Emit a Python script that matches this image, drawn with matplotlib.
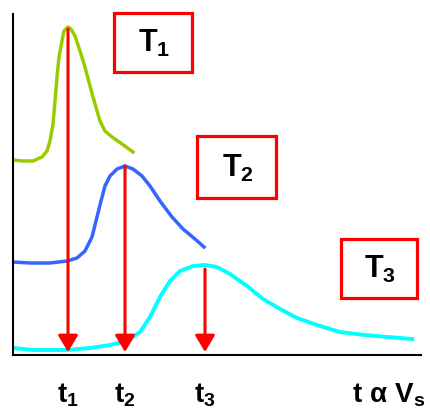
import matplotlib
matplotlib.use('Agg')
import matplotlib.pyplot as plt
from matplotlib.patches import Rectangle

plt.rcParams['font.family'] = ['Liberation Sans', 'DejaVu Sans']
plt.rcParams['mathtext.fontset'] = 'custom'
plt.rcParams['mathtext.rm'] = 'Liberation Sans:bold'
plt.rcParams['mathtext.bf'] = 'Liberation Sans:bold'
plt.rcParams['mathtext.it'] = 'Liberation Sans:bold'

# peak curves (arbitrary units)
green_x = [0, 10, 20, 29, 34, 37, 40, 42, 44, 46, 49, 51, 55, 58, 62, 67, 72,
           77, 82, 87, 92, 99, 109, 120]
green_y = [195, 194, 194, 198, 204, 214, 231, 254, 278, 298, 314, 324, 328,
           326, 319, 304, 288, 269, 251, 234, 224, 218, 211, 203]

blue_x = [0, 17, 37, 54, 64, 72, 79, 84, 88, 92, 97, 104, 112, 120, 129, 137,
          147, 159, 170, 182, 191]
blue_y = [93, 92, 92, 94, 97, 104, 118, 138, 154, 169, 179, 186, 189, 186,
          179, 169, 154, 138, 126, 116, 108]

cyan_x = [0, 20, 54, 77, 97, 114, 127, 137, 147, 157, 167, 180, 192, 204, 217,
          234, 250, 267, 284, 307, 327, 352, 375, 399]
cyan_y = [7, 5, 5, 7, 10, 14, 23, 38, 58, 74, 84, 89, 90, 88, 81, 69, 56, 46,
          37, 29, 23, 20, 18, 16]

# retention times and peak tops
t_peak = [55, 112, 192]
h_peak = [326, 189, 86]
t_labels = [r'$\mathbf{t_1}$', r'$\mathbf{t_2}$', r'$\mathbf{t_3}$']

# T boxes (x0, y0, x1, y1)
box_x0 = [101, 184, 328]
box_y0 = [283, 157, 57]
box_x1 = [179, 263, 404]
box_y1 = [342, 219, 116]
box_labels = [r'$\mathbf{T_1}$', r'$\mathbf{T_2}$', r'$\mathbf{T_3}$']

fig = plt.figure(figsize=(4.3, 4.1), dpi=100)
ax = fig.add_axes([13/430, 54/410, 408/430, 341/410])
ax.set_xlim(0, 408)
ax.set_ylim(0, 341)

ax.plot(green_x, green_y, color='#99CC00', lw=2.5, solid_joinstyle='round')
ax.plot(blue_x, blue_y, color='#3366FF', lw=2.5, solid_joinstyle='round')
ax.plot(cyan_x, cyan_y, color='#00FFFF', lw=2.8, solid_joinstyle='round')

for x, h, lab in zip(t_peak, h_peak, t_labels):
    ax.annotate('', xy=(x, 3), xytext=(x, h),
                arrowprops=dict(arrowstyle='-|>,head_length=0.5,head_width=0.3',
                                color='red', lw=2.2, mutation_scale=20,
                                shrinkA=0, shrinkB=0))
    ax.text(x, -26, lab, ha='center', va='top', fontsize=20, clip_on=False)

for x0, y0, x1, y1, lab in zip(box_x0, box_y0, box_x1, box_y1, box_labels):
    ax.add_patch(Rectangle((x0, y0), x1 - x0, y1 - y0, fill=False,
                           edgecolor='red', lw=2.3, clip_on=False))
    ax.text((x0 + x1) / 2 + 1, (y0 + y1) / 2, lab, ha='center', va='center',
            fontsize=22, clip_on=False)

ax.text(339, -26, r'$\mathbf{t\ α\ V_s}$', ha='left', va='top', fontsize=20,
        clip_on=False)

ax.spines['top'].set_visible(False)
ax.spines['right'].set_visible(False)
ax.spines['left'].set_linewidth(1.5)
ax.spines['bottom'].set_linewidth(1.5)
ax.set_xticks([])
ax.set_yticks([])

fig.savefig('out.png', dpi=100)
